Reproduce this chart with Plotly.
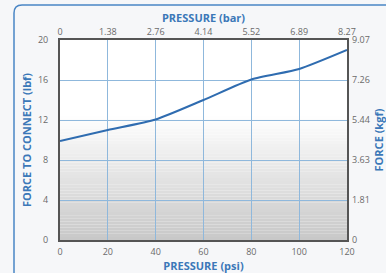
import plotly.graph_objects as go

# Data
pressure_psi = [0, 20, 40, 60, 80, 100, 120]
force_lbf = [9.9, 11.0, 12.05, 14.0, 16.05, 17.1, 19.0]

x_ticks_psi = [0, 20, 40, 60, 80, 100, 120]
x_ticks_bar = ["0", "1.38", "2.76", "4.14", "5.52", "6.89", "8.27"]
y_ticks_lbf = [0, 4, 8, 12, 16, 20]
y_ticks_kgf = ["0", "1.81", "3.63", "5.44", "7.26", "9.07"]

BLUE = "#3b78b8"
GRID = "#8fb8dc"
TICK = "#6a6a6a"
FONT = "Open Sans"

fig = go.Figure()
fig.add_trace(go.Scatter(x=pressure_psi, y=force_lbf, mode="lines",
                         line=dict(color="#2f6cb0", width=2, shape="spline", smoothing=0.6),
                         hoverinfo="skip", showlegend=False))
# invisible trace for secondary axes
fig.add_trace(go.Scatter(x=[pressure_psi[0]], y=[force_lbf[0]], xaxis="x2", yaxis="y2",
                         mode="markers", marker=dict(opacity=0), showlegend=False, hoverinfo="skip"))

W, H = 386, 273
ml, mr, mt, mb = 60, 39, 40, 33
pw, ph = W - ml - mr, H - mt - mb

shapes = []
# gradient background in plot area
n = 40
top_frac = 0.62
for i in range(n):
    y0 = top_frac * i / n
    y1 = top_frac * (i + 1) / n
    t = (i + 0.5) / n
    v = int(200 + (255 - 200) * t)
    shapes.append(dict(type="rect", xref="x domain", yref="y domain", x0=0, x1=1, y0=y0, y1=y1,
                       fillcolor=f"rgb({v},{v},{v})", line=dict(width=0), layer="below"))

def px(x):
    return (x - ml) / pw
def py(y):
    return (H - mb - y) / ph
r = 8
path = (f"M {px(14)} {py(275)} L {px(14)} {py(5 + r)} "
        f"Q {px(14)} {py(5)} {px(14 + r)} {py(5)} L {px(390)} {py(5)}")
shapes.append(dict(type="path", xref="paper", yref="paper", path=path,
                   line=dict(color="#4a86c5", width=1.5), layer="below"))
fig.update_layout(shapes=shapes)

title_font = dict(color=BLUE, size=11, family=FONT, weight="bold")
fig.update_layout(
    width=W, height=H,
    margin=dict(l=ml, r=mr, t=mt, b=mb),
    paper_bgcolor="#f6f7f9",
    plot_bgcolor="white",
    font=dict(family=FONT, size=9, color=TICK),
    xaxis=dict(range=[0, 120], tickvals=x_ticks_psi, ticktext=[str(v) for v in x_ticks_psi],
               showgrid=True, gridcolor=GRID, gridwidth=1, zeroline=False, automargin=False,
               showline=True, linecolor="#555555", linewidth=2, mirror=True,
               ticks="", ticklabelstandoff=2,
               title=dict(text="PRESSURE (psi)", font=title_font, standoff=0)),
    xaxis2=dict(range=[0, 120], overlaying="x", side="top", tickvals=x_ticks_psi, ticktext=x_ticks_bar,
                showgrid=False, zeroline=False, ticks="", ticklabelstandoff=2, automargin=False,
                title=dict(text="PRESSURE (bar)", font=title_font, standoff=0)),
    yaxis=dict(range=[0, 20], tickvals=y_ticks_lbf, ticktext=[str(v) for v in y_ticks_lbf],
               showgrid=True, gridcolor=GRID, gridwidth=1, zeroline=False, automargin=False,
               showline=True, linecolor="#555555", linewidth=2, mirror=True,
               ticks="", ticklabelstandoff=8,
               title=dict(text="FORCE TO CONNECT (lbf)", font=title_font, standoff=4)),
    yaxis2=dict(range=[0, 20], overlaying="y", side="right", tickvals=y_ticks_lbf, ticktext=y_ticks_kgf,
                showgrid=False, zeroline=False, ticks="", ticklabelstandoff=4, automargin=False,
                title=dict(text="FORCE (kgf)", font=title_font, standoff=7)),
)

fig.write_html("out.html", config={"displayModeBar": False},
               post_script="document.body.style.margin='0';document.body.style.overflow='hidden';")
